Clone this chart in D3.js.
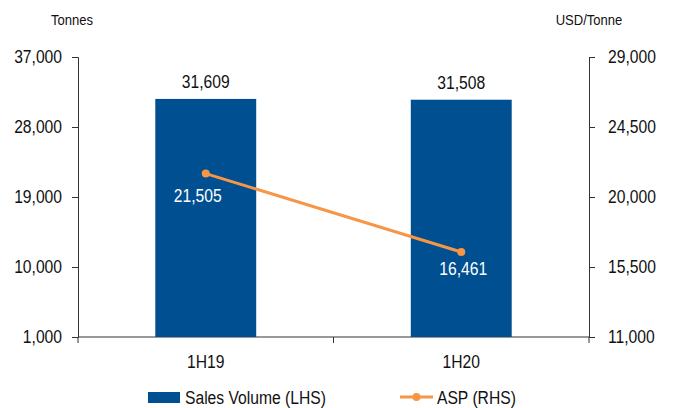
<!DOCTYPE html>
<html>
<head>
<meta charset="utf-8">
<script src="https://cdn.jsdelivr.net/npm/d3@7"></script>
<style>
  html, body { margin: 0; padding: 0; background: #fff; }
  svg { display: block; font-family: "Liberation Sans", Arial, sans-serif; }
  /* slightly condensed lettering, scaled about each label's anchor */
  svg text { transform-box: fill-box; transform: scaleX(0.87); transform-origin: center; }
  svg text.anchor-end { transform-origin: right; }
  svg text.anchor-start { transform-origin: left; }
</style>
</head>
<body>
<svg id="chart" width="673" height="408"></svg>
<script>
// Half-year sales volume (tonnes) and average selling price (USD/tonne)
const periods = ["1H19", "1H20"];
const salesVolume = [31609, 31508];
const asp = [21505, 16461];
const leftTicks = [1000, 10000, 19000, 28000, 37000];
const rightTicks = [11000, 15500, 20000, 24500, 29000];

const W = 673, H = 408;
const plot = { left: 78, right: 589, top: 57, bottom: 337 };
const barColor = "#004f91";
const lineColor = "#f79646";
const fmt = d3.format(",");
const FS = "18px";

const svg = d3.select("#chart");

const x = d3.scaleBand().domain(periods).range([plot.left, plot.right]).padding(0);
const yL = d3.scaleLinear().domain([1000, 37000]).range([plot.bottom, plot.top]);
const yR = d3.scaleLinear().domain([11000, 29000]).range([plot.bottom, plot.top]);
const barW = x.bandwidth() * 0.395;

// Axes
const axisStyle = cls => g => {
  g.selectAll("path, line").attr("stroke", "#333").attr("stroke-width", 1);
  g.selectAll("text").attr("fill", "#111").attr("class", cls).style("font-size", FS);
};

svg.append("g")
  .attr("transform", `translate(${plot.left},0)`)
  .call(d3.axisLeft(yL).tickValues(leftTicks).tickFormat(fmt).tickSizeOuter(0).tickSize(6).tickPadding(10))
  .call(axisStyle("anchor-end"));

svg.append("g")
  .attr("transform", `translate(${plot.right},0)`)
  .call(d3.axisRight(yR).tickValues(rightTicks).tickFormat(fmt).tickSizeOuter(0).tickSize(6).tickPadding(13))
  .call(axisStyle("anchor-start"));

// Category axis with ticks at the band boundaries
const xAxis = svg.append("g").attr("transform", `translate(0,${plot.bottom})`);
xAxis.append("line")
  .attr("x1", plot.left).attr("x2", plot.right)
  .attr("stroke", "#333");
const bounds = periods.map(p => x(p)).concat([x(periods[periods.length - 1]) + x.bandwidth()]);
xAxis.selectAll("line.tick").data(bounds).join("line")
  .attr("class", "tick")
  .attr("x1", d => d).attr("x2", d => d)
  .attr("y1", 0).attr("y2", 6)
  .attr("stroke", "#333");
xAxis.selectAll("text").data(periods).join("text")
  .attr("x", d => x(d) + x.bandwidth() / 2)
  .attr("y", 31)
  .attr("text-anchor", "middle")
  .attr("fill", "#111")
  .style("font-size", FS)
  .text(d => d);

// Axis titles
svg.append("text").attr("x", 72).attr("y", 25).attr("text-anchor", "middle")
  .style("font-size", "15px").attr("fill", "#111").text("Tonnes");
svg.append("text").attr("x", 589).attr("y", 25).attr("text-anchor", "middle")
  .style("font-size", "15px").attr("fill", "#111").text("USD/Tonne");

// Bars
const cx = p => x(p) + x.bandwidth() / 2;
svg.selectAll("rect.bar").data(periods).join("rect")
  .attr("class", "bar")
  .attr("x", (d) => cx(d) - barW / 2)
  .attr("width", barW)
  .attr("y", (d, i) => yL(salesVolume[i]))
  .attr("height", (d, i) => plot.bottom - yL(salesVolume[i]))
  .attr("fill", barColor);

svg.selectAll("text.barlab").data(periods).join("text")
  .attr("class", "barlab")
  .attr("x", d => cx(d))
  .attr("y", (d, i) => yL(salesVolume[i]) - 11)
  .attr("text-anchor", "middle")
  .attr("fill", "#111")
  .style("font-size", FS)
  .text((d, i) => fmt(salesVolume[i]));

// ASP line
const line = d3.line().x((d, i) => cx(periods[i])).y(d => yR(d));
svg.append("path").datum(asp)
  .attr("d", line)
  .attr("fill", "none")
  .attr("stroke", lineColor)
  .attr("stroke-width", 3);
svg.selectAll("circle.pt").data(asp).join("circle")
  .attr("class", "pt")
  .attr("cx", (d, i) => cx(periods[i]))
  .attr("cy", d => yR(d))
  .attr("r", 4)
  .attr("fill", lineColor);
// value labels sit just under each point
const labOffset = [{ dx: -8, dy: 28 }, { dx: 2, dy: 23 }];
svg.selectAll("text.asplab").data(asp).join("text")
  .attr("class", "asplab")
  .attr("x", (d, i) => cx(periods[i]) + labOffset[i].dx)
  .attr("y", (d, i) => yR(d) + labOffset[i].dy)
  .attr("text-anchor", "middle")
  .attr("fill", "#fff")
  .style("font-size", FS)
  .text(d => fmt(d));

// Legend
const lg = svg.append("g");
lg.append("rect").attr("x", 148).attr("y", 392).attr("width", 32).attr("height", 11).attr("fill", barColor);
lg.append("text").attr("class", "anchor-start").attr("x", 185).attr("y", 404)
  .style("font-size", FS).attr("fill", "#111").text("Sales Volume (LHS)");
lg.append("line").attr("x1", 400).attr("x2", 433).attr("y1", 397).attr("y2", 397)
  .attr("stroke", lineColor).attr("stroke-width", 3);
lg.append("circle").attr("cx", 416.5).attr("cy", 397).attr("r", 4).attr("fill", lineColor);
lg.append("text").attr("class", "anchor-start").attr("x", 437).attr("y", 404)
  .style("font-size", FS).attr("fill", "#111").text("ASP (RHS)");
</script>
</body>
</html>
